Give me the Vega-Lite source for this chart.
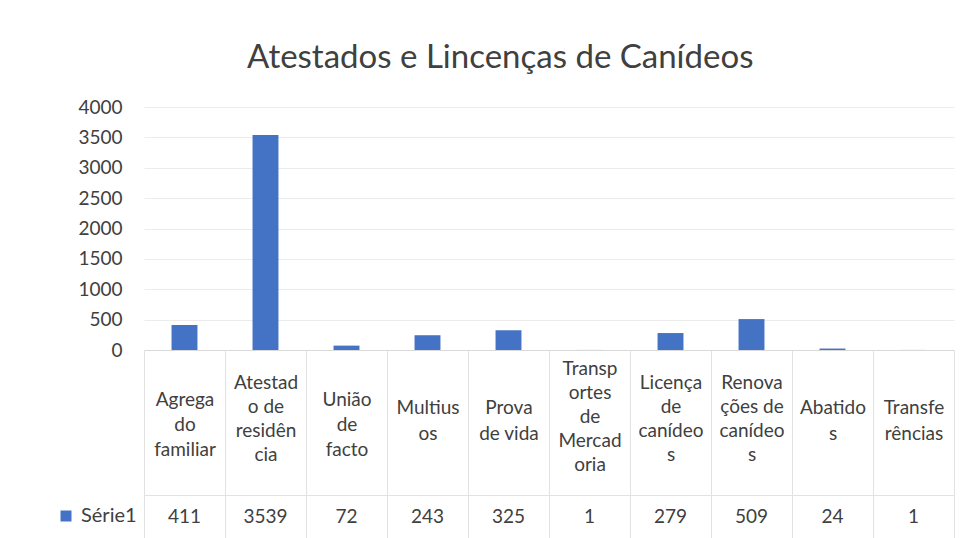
{
  "$schema": "https://vega.github.io/schema/vega-lite/v6.json",
  "padding": {"left": 56, "top": 42, "right": 5, "bottom": 0},
  "background": "white",
  "title": {"text": "Atestados e Lincenças de Canídeos", "fontSize": 33, "font": "Lato", "fontWeight": "normal", "color": "#404040", "anchor": "middle", "dx": -5, "offset": 23},
  "config": {"font": "Lato", "axis": {"labelFont": "Lato", "labelColor": "#404040"}, "legend": {"labelFont": "Lato"}},
  "bounds": "flush",
  "spacing": 145,
  "data": {"values": [
    {"categoria": "Agregado familiar", "serie": "Série1", "valor": 411},
    {"categoria": "Atestado de residência", "serie": "Série1", "valor": 3539},
    {"categoria": "União de facto", "serie": "Série1", "valor": 72},
    {"categoria": "Multiusos", "serie": "Série1", "valor": 243},
    {"categoria": "Prova de vida", "serie": "Série1", "valor": 325},
    {"categoria": "Transportes de Mercadoria", "serie": "Série1", "valor": 1},
    {"categoria": "Licença de canídeos", "serie": "Série1", "valor": 279},
    {"categoria": "Renovações de canídeos", "serie": "Série1", "valor": 509},
    {"categoria": "Abatidos", "serie": "Série1", "valor": 24},
    {"categoria": "Transferências", "serie": "Série1", "valor": 1}
  ]},
  "vconcat": [
    {
      "width": 810,
      "height": 243,
      "view": {"stroke": null},
      "resolve": {"axis": {"x": "independent"}},
      "encoding": {
        "y": {"field": "valor", "type": "quantitative",
          "scale": {"domain": [0, 4000]},
          "axis": {"title": null, "values": [0, 500, 1000, 1500, 2000, 2500, 3000, 3500, 4000], "format": "d", "labelFontSize": 19, "labelPadding": 22,
            "domain": false, "ticks": false, "gridColor": "#ececec"}}
      },
      "layer": [
        {
          "mark": {"type": "bar", "width": {"band": 0.32}},
          "encoding": {
            "x": {"field": "categoria", "type": "nominal", "sort": null,
              "scale": {"paddingInner": 0, "paddingOuter": 0},
              "axis": {"orient": "bottom", "title": null, "labelAngle": 0, "labelFontSize": 19, "labelLineHeight": 24, "labelBaseline": "middle",
                "labelExpr": "datum.value == 'Transportes de Mercadoria' ? ['Transp','ortes','de','Mercad','oria'] : ''",
                "ticks": true, "tickBand": "extent", "tickSize": 145, "tickColor": "#e2e2e2", "labelPadding": -127,
                "domainColor": "#d9d9d9", "labelOverlap": false, "labelBound": false, "labelFlush": false}},
            "color": {"field": "serie", "type": "nominal", "scale": {"range": ["#4472C4"]},
              "legend": {"title": null, "orient": "none", "legendX": -88, "legendY": 399, "symbolType": "square", "symbolSize": 121, "labelFontSize": 20, "labelColor": "#404040", "labelOffset": 5}}
          }
        },
        {
          "mark": {"type": "bar", "width": {"band": 0.32}, "opacity": 0},
          "encoding": {
            "x": {"field": "categoria", "type": "nominal", "sort": null,
              "scale": {"paddingInner": 0, "paddingOuter": 0},
              "axis": {"orient": "bottom", "title": null, "labelAngle": 0, "labelFontSize": 19, "labelLineHeight": 24, "labelBaseline": "middle",
                "labelExpr": "{'Atestado de residência': ['Atestad','o de','residên','cia'], 'Licença de canídeos': ['Licença','de','canídeo','s'], 'Renovações de canídeos': ['Renova','ções de','canídeo','s']}[datum.value] || ''",
                "ticks": true, "tickBand": "extent", "tickSize": 145, "tickOpacity": 0, "labelPadding": -113,
                "domain": false, "grid": false, "labelOverlap": false, "labelBound": false, "labelFlush": false}}
          }
        },
        {
          "mark": {"type": "bar", "width": {"band": 0.32}, "opacity": 0},
          "encoding": {
            "x": {"field": "categoria", "type": "nominal", "sort": null,
              "scale": {"paddingInner": 0, "paddingOuter": 0},
              "axis": {"orient": "bottom", "title": null, "labelAngle": 0, "labelFontSize": 19, "labelLineHeight": 25, "labelBaseline": "middle",
                "labelExpr": "{'Agregado familiar': ['Agrega','do','familiar'], 'União de facto': ['União','de','facto']}[datum.value] || ''",
                "ticks": true, "tickBand": "extent", "tickSize": 145, "tickOpacity": 0, "labelPadding": -96,
                "domain": false, "grid": false, "labelOverlap": false, "labelBound": false, "labelFlush": false}}
          }
        },
        {
          "mark": {"type": "bar", "width": {"band": 0.32}, "opacity": 0},
          "encoding": {
            "x": {"field": "categoria", "type": "nominal", "sort": null,
              "scale": {"paddingInner": 0, "paddingOuter": 0},
              "axis": {"orient": "bottom", "title": null, "labelAngle": 0, "labelFontSize": 19, "labelLineHeight": 26, "labelBaseline": "middle",
                "labelExpr": "{'Multiusos': ['Multius','os'], 'Prova de vida': ['Prova','de vida'], 'Abatidos': ['Abatido','s'], 'Transferências': ['Transfe','rências']}[datum.value] || ''",
                "ticks": true, "tickBand": "extent", "tickSize": 145, "tickOpacity": 0, "labelPadding": -88,
                "domain": false, "grid": false, "labelOverlap": false, "labelBound": false, "labelFlush": false}}
          }
        }
      ]
    },
    {
      "width": 810,
      "height": 43,
      "view": {"stroke": "#e2e2e2"},
      "mark": {"type": "text", "fontSize": 19, "color": "#404040", "font": "Lato"},
      "encoding": {
        "x": {"field": "categoria", "type": "nominal", "sort": null,
          "scale": {"paddingInner": 0, "paddingOuter": 0},
          "axis": {"title": null, "labels": false, "ticks": false, "domain": false, "grid": true, "tickBand": "extent", "gridColor": "#e2e2e2"}},
        "text": {"field": "valor", "type": "quantitative"}
      }
    }
  ]
}
